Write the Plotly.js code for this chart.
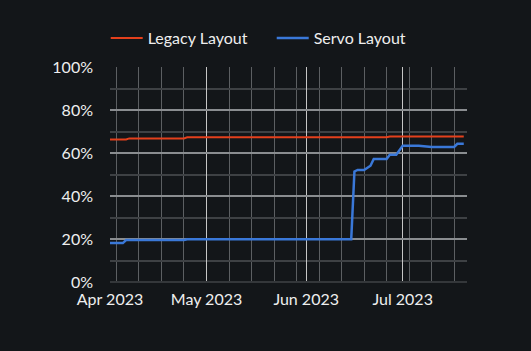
<!DOCTYPE html>
<html>
<head>
<meta charset="utf-8">
<script src="https://cdn.plot.ly/plotly-3.0.1.min.js"></script>
<style>
html,body{margin:0;padding:0;background:#131619;}
#chart{width:531px;height:351px;}
</style>
</head>
<body>
<div id="chart"></div>
<script>
const legacyDates = ['2023-04-01','2023-04-06','2023-04-07','2023-04-24','2023-04-25','2023-06-26','2023-06-27','2023-07-20'];
const legacyValues = [0.663,0.663,0.668,0.668,0.673,0.673,0.677,0.677];

const servoDates = ['2023-04-01','2023-04-05','2023-04-06','2023-04-24','2023-04-25','2023-06-15','2023-06-16','2023-06-17','2023-06-19','2023-06-20','2023-06-21','2023-06-22','2023-06-26','2023-06-27','2023-06-29','2023-07-01','2023-07-06','2023-07-10','2023-07-17','2023-07-18','2023-07-20'];
const servoValues = [0.181,0.181,0.195,0.195,0.199,0.199,0.514,0.521,0.521,0.530,0.541,0.572,0.572,0.592,0.592,0.634,0.634,0.628,0.628,0.643,0.643];

const seriesNames = ['Legacy Layout','Servo Layout'];
const yTickVals = [0,0.2,0.4,0.6,0.8,1];

const traces = [
  {x: legacyDates, y: legacyValues, name: seriesNames[0], type:'scatter', mode:'lines',
   line:{color:'#e4401c', width:2}},
  {x: servoDates, y: servoValues, name: seriesNames[1], type:'scatter', mode:'lines',
   line:{color:'#3a78d8', width:2.5}}
];

const layout = {
  width:531, height:351,
  paper_bgcolor:'#131619', plot_bgcolor:'#131619',
  font:{family:'Lato, sans-serif', size:16, color:'#eeeeee'},
  margin:{l:109.5, r:64, t:67, b:69, pad:0},
  showlegend:true,
  legend:{orientation:'h', x:-0.012, xanchor:'left', y:1.135, yanchor:'middle',
          font:{size:16, color:'#eeeeee'}, bgcolor:'rgba(0,0,0,0)',
          itemwidth:32, entrywidth:119, entrywidthmode:'pixels'},
  xaxis:{
    type:'date', range:['2023-04-01','2023-07-21'],
    dtick:'M1', tick0:'2023-04-01', tickformat:'%b %Y',
    showgrid:true, gridcolor:'#c6c6c6', gridwidth:1,
    minor:{showgrid:true, dtick:604800000, tick0:'2023-04-03', gridcolor:'#5c5f62', gridwidth:1},
    zeroline:false, showline:false, ticks:'', ticklabelstandoff:6
  },
  yaxis:{
    range:[0,1], tickvals:yTickVals, tickformat:'.0%',
    showgrid:true, gridcolor:'#8a8d90', gridwidth:2,
    minor:{showgrid:true, dtick:0.1, gridcolor:'#3e4144', gridwidth:2},
    zeroline:true, zerolinecolor:'#34373a', zerolinewidth:2,
    showline:false, ticks:'', ticklabelstandoff:16
  }
};

Plotly.newPlot('chart', traces, layout, {displayModeBar:false, staticPlot:true});
</script>
</body>
</html>
